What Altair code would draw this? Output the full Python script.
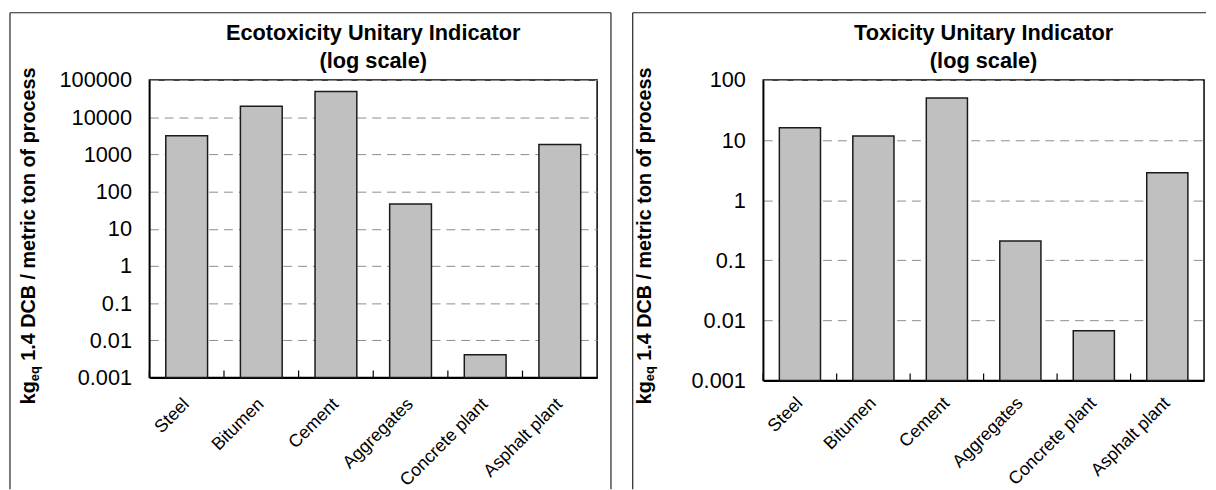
import altair as alt
import pandas as pd

# ---- data ----
categories = ["Steel", "Bitumen", "Cement", "Aggregates", "Concrete plant", "Asphalt plant"]
ecotox_values = [3150, 19600, 49000, 46, 0.0041, 1850]
tox_values = [16, 11.7, 50, 0.21, 0.0067, 2.85]
ecotox_ticks = [0.001, 0.01, 0.1, 1, 10, 100, 1000, 10000, 100000]
tox_ticks = [0.001, 0.01, 0.1, 1, 10, 100]
ecotox_title = ["Ecotoxicity Unitary Indicator", "(log scale)"]
tox_title = ["Toxicity Unitary Indicator", "(log scale)"]
ytitle_main = "kg"
ytitle_sub = "eq"
ytitle_rest = "1.4 DCB / metric ton of process"

FONT = "Liberation Sans"
one = pd.DataFrame({"k": [0]})


def panel(values, ticks, title_lines, width, height, left_edge, right_edge,
          draw_right, ytitle_x, ytitle_start, xlabel_pad):
    df = pd.DataFrame({"category": categories, "value": values})
    step = width / len(categories)

    y_enc = alt.Y(
        "value:Q",
        scale=alt.Scale(type="log", domain=[ticks[0], ticks[-1]]),
        axis=alt.Axis(values=ticks, format="~g", title=None, labelFont=FONT,
                      labelFontSize=22, labelColor="#000", labelPadding=18,
                      tickSize=0, grid=True, gridDash=[9, 6], gridColor="#8c8c8c",
                      gridWidth=1, domainColor="#000", domainWidth=1.5),
    )
    x_enc = alt.X(
        "category:N", sort=categories,
        scale=alt.Scale(paddingInner=0.44, paddingOuter=0.22),
        axis=alt.Axis(title=None, labelAngle=-45, labelAlign="right", labelBaseline="middle",
                      labelFont=FONT, labelFontSize=18, labelColor="#000", labelPadding=xlabel_pad,
                      tickSize=0, domainColor="#000", domainWidth=2, grid=False),
    )
    bars = alt.Chart(df).mark_bar(fill="#c0c0c0", stroke="#1a1a1a", strokeWidth=1.5).encode(
        x=x_enc, y=y_enc, y2=alt.datum(ticks[0])
    )
    xticks = alt.Chart(df).mark_rule(color="#000", strokeWidth=1.2, xOffset=-0.22 * step).encode(
        x=alt.X("category:N", sort=categories, bandPosition=0),
        y=alt.value(height - 7), y2=alt.value(height),
    )
    layers = [bars, xticks]

    # chart title (two lines)
    for line, yb in zip(title_lines, [-40, -12]):
        layers.append(
            alt.Chart(one).mark_text(font=FONT, fontSize=22, fontWeight="bold", color="#000",
                                     align="center", baseline="alphabetic").encode(
                x=alt.value(width / 2), y=alt.value(yb), text=alt.value(line))
        )

    # y axis title with subscript
    fs = 20
    w_main = (0.556 + 0.611) * fs
    fs_sub = 13
    w_sub = (0.556 + 0.611) * fs_sub
    w_space = 0.278 * fs
    common = dict(font=FONT, fontWeight="bold", color="#000", angle=270,
                  align="left", baseline="alphabetic")
    layers.append(alt.Chart(one).mark_text(fontSize=fs, **common).encode(
        x=alt.value(ytitle_x), y=alt.value(ytitle_start), text=alt.value(ytitle_main)))
    layers.append(alt.Chart(one).mark_text(fontSize=fs_sub, **common).encode(
        x=alt.value(ytitle_x + 4), y=alt.value(ytitle_start - w_main), text=alt.value(ytitle_sub)))
    layers.append(alt.Chart(one).mark_text(fontSize=fs, **common).encode(
        x=alt.value(ytitle_x), y=alt.value(ytitle_start - w_main - w_sub - w_space),
        text=alt.value(ytitle_rest)))

    # panel border (top, left, right)
    top, bottom = -68, 414
    bc = dict(color="#222", strokeWidth=1.2)
    layers.append(alt.Chart(one).mark_rule(**bc).encode(
        x=alt.value(left_edge), x2=alt.value(right_edge), y=alt.value(top)))
    layers.append(alt.Chart(one).mark_rule(**bc).encode(
        x=alt.value(left_edge), y=alt.value(top), y2=alt.value(bottom)))
    if draw_right:
        layers.append(alt.Chart(one).mark_rule(**bc).encode(
            x=alt.value(right_edge), y=alt.value(top), y2=alt.value(bottom)))

    return alt.layer(*layers).properties(width=width, height=height)


left = panel(ecotox_values, ecotox_ticks, ecotox_title, 453, 301, -141, 467, True, -116, 328, 24)
right = panel(tox_values, tox_ticks, tox_title, 446, 304, -132, 448, False, -114, 328, 20)

chart = alt.hconcat(left, right, spacing=18).properties(
    padding={"left": 0, "top": 0, "right": 0, "bottom": 0}, background="white"
).configure_view(stroke="#000", strokeWidth=1.5)

chart.save("out.html", embed_options={"renderer": "svg", "actions": False})
